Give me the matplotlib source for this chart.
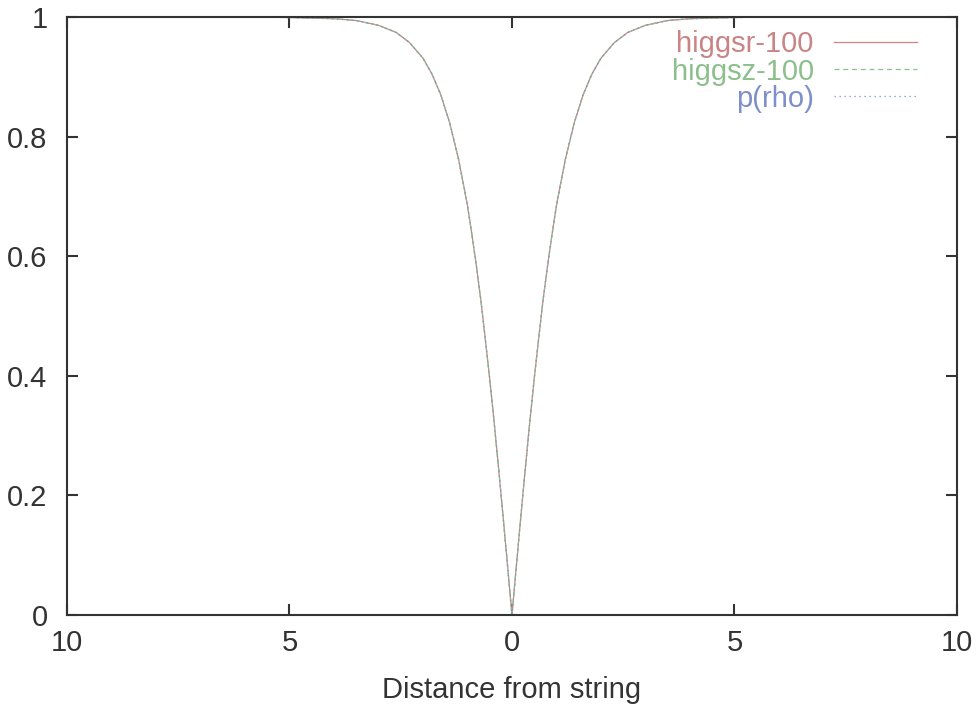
import matplotlib.pyplot as plt

# distance from string (x) and field profile
dist = [-10, -8, -6, -5, -4, -3.5, -3, -2.6, -2.3, -2, -1.8, -1.6, -1.4, -1.2, -1,
        -0.9, -0.8, -0.7, -0.6, -0.5, -0.4, -0.3, -0.2, -0.1, 0,
        0.1, 0.2, 0.3, 0.4, 0.5, 0.6, 0.7, 0.8, 0.9, 1,
        1.2, 1.4, 1.6, 1.8, 2, 2.3, 2.6, 3, 3.5, 4, 5, 6, 8, 10]
higgsr = [1.0, 1.0, 1.0, 0.999, 0.997, 0.994, 0.986, 0.974, 0.957, 0.931, 0.905, 0.870, 0.823, 0.762, 0.685,
          0.636, 0.584, 0.527, 0.462, 0.395, 0.322, 0.245, 0.165, 0.083, 0.0,
          0.083, 0.165, 0.245, 0.322, 0.395, 0.462, 0.527, 0.584, 0.636, 0.685,
          0.762, 0.823, 0.870, 0.905, 0.931, 0.957, 0.974, 0.986, 0.994, 0.997, 0.999, 1.0, 1.0, 1.0]
higgsz = [1.0, 1.0, 1.0, 0.999, 0.997, 0.994, 0.986, 0.974, 0.957, 0.931, 0.905, 0.870, 0.823, 0.762, 0.685,
          0.636, 0.584, 0.527, 0.462, 0.395, 0.322, 0.245, 0.165, 0.083, 0.0,
          0.083, 0.165, 0.245, 0.322, 0.395, 0.462, 0.527, 0.584, 0.636, 0.685,
          0.762, 0.823, 0.870, 0.905, 0.931, 0.957, 0.974, 0.986, 0.994, 0.997, 0.999, 1.0, 1.0, 1.0]
p_rho = [1.0, 1.0, 1.0, 0.999, 0.997, 0.994, 0.986, 0.974, 0.957, 0.931, 0.905, 0.870, 0.823, 0.762, 0.685,
         0.636, 0.584, 0.527, 0.462, 0.395, 0.322, 0.245, 0.165, 0.083, 0.0,
         0.083, 0.165, 0.245, 0.322, 0.395, 0.462, 0.527, 0.584, 0.636, 0.685,
         0.762, 0.823, 0.870, 0.905, 0.931, 0.957, 0.974, 0.986, 0.994, 0.997, 0.999, 1.0, 1.0, 1.0]

xticks = [-10, -5, 0, 5, 10]
xticklabels = ['10', '5', '0', '5', '10']
yticks = [0, 0.2, 0.4, 0.6, 0.8, 1]
yticklabels = ['0', '0.2', '0.4', '0.6', '0.8', '1']

plt.rcParams['font.family'] = ['Liberation Sans', 'DejaVu Sans']

fig = plt.figure(figsize=(9.76, 7.05), dpi=100)
ax = fig.add_axes([0.0686, 0.1277, 0.9119, 0.8483])

ax.plot(dist, higgsr, color='#c98585', lw=0.9, ls='-', label='higgsr-100')
ax.plot(dist, higgsz, color='#8cbf8c', lw=0.9, ls=(0, (4, 3)), label='higgsz-100')
ax.plot(dist, p_rho, color='#7f8fc9', lw=0.9, ls=(0, (1, 3)), label='p(rho)')

ax.set_xlim(-10, 10)
ax.set_ylim(0, 1)
ax.set_xticks(xticks)
ax.set_xticklabels(xticklabels)
ax.set_yticks(yticks)
ax.set_yticklabels(yticklabels)
ax.tick_params(direction='in', length=8, width=1.5, top=True, right=True,
               labelsize=21, colors='#333333', pad=10)
ax.tick_params(axis='y', pad=14)
for s in ax.spines.values():
    s.set_linewidth(1.5)
    s.set_color('#333333')

ax.set_xlabel('Distance from string', fontsize=21, color='#333333', labelpad=14)

leg = ax.legend(loc='upper right', bbox_to_anchor=(0.968, 0.997), frameon=False,
                markerfirst=False, labelcolor='linecolor', fontsize=21,
                handlelength=2.85, handletextpad=0.68, labelspacing=-0.03,
                borderaxespad=0)
for t in leg.get_texts():
    t.set_ha('right')

fig.savefig('out.png', dpi=100)
